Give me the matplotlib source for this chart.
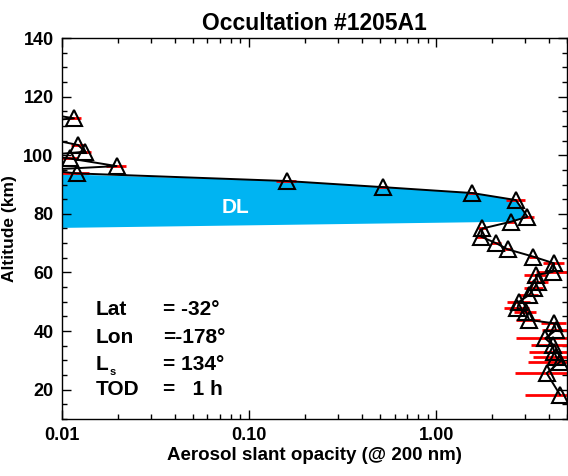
import matplotlib
matplotlib.use("Agg")
import matplotlib.pyplot as plt
from matplotlib.ticker import FixedLocator, MultipleLocator, LogLocator, NullFormatter

plt.rcParams['font.family'] = ['Liberation Sans', 'DejaVu Sans']
plt.rcParams['font.weight'] = 'bold'

# profile (altitude km, slant opacity, error)
altitude = [116.5, 112.6, 110.0, 107.5, 103.5, 101.2, 100.0, 98.9, 96.3, 95.0, 93.8,
            91.2, 89.1, 87.1, 84.7, 79.0, 77.3, 75.0, 72.2, 70.0, 67.9, 65.4,
            63.1, 60.2, 59.1, 56.8, 54.6, 52.3, 50.0, 47.8, 46.6, 43.8, 42.6,
            40.3, 37.5, 35.2, 33.0, 31.0, 29.5, 25.6, 18.2]
opacity = [0.005, 0.0116, 0.004, 0.006, 0.0122, 0.0133, 0.008, 0.0110, 0.0196, 0.008, 0.0120,
           0.159, 0.523, 1.56, 2.67, 3.08, 2.51, 1.77, 1.74, 2.09, 2.41, 3.30,
           4.27, 4.20, 3.41, 3.50, 3.34, 3.14, 2.78, 2.72, 3.02, 3.14, 4.27,
           4.37, 3.83, 4.20, 4.27, 4.40, 4.60, 3.90, 4.60]
opacity_err = [0.001, 0.001, 0.001, 0.001, 0.001, 0.001, 0.001, 0.001, 0.0025, 0.001, 0.002,
               0.02, 0.03, 0.08, 0.3, 0.25, 0.12, 0.1, 0.1, 0.12, 0.15, 0.15,
               0.55, 0.8, 0.45, 0.45, 0.4, 0.35, 0.38, 0.4, 0.4, 0.45, 0.65,
               0.7, 1.17, 1.0, 1.15, 1.1, 1.5, 1.25, 1.6]

# detached layer: profile indices bounding it plus its edges on the left axis
dl_first, dl_last = 11, 16
dl_top_left = 93.5
dl_bottom_left = 75.2

info_names = ['Lat', 'Lon', 'L', 'TOD']
info_values = ['= -32°', '=-178°', '= 134°', '=   1 h']

fig = plt.figure(figsize=(5.68, 4.76), dpi=100)
ax = fig.add_axes([0.109, 0.12, 0.889, 0.80])

# blue DL region
poly_x = [0.01] + opacity[dl_first:dl_last + 1] + [0.01]
poly_y = [dl_top_left] + altitude[dl_first:dl_last + 1] + [dl_bottom_left]
ax.fill(poly_x, poly_y, color='#00B4F2', lw=0, zorder=1)
ax.text(0.085, 82.3, 'DL', color='white', fontsize=15, fontweight='bold',
        ha='center', va='center', zorder=2)

ax.errorbar(opacity, altitude, xerr=opacity_err, fmt='none', ecolor='red',
            elinewidth=2, capsize=0, zorder=2)
ax.plot(opacity, altitude, color='black', lw=1.4, marker='^', ms=11,
        mfc='none', mec='black', mew=1.5, zorder=3)

ax.set_xscale('log')
ax.set_xlim(0.01, 5)
ax.set_ylim(10, 140)

ax.xaxis.set_major_locator(FixedLocator([0.01, 0.1, 1.0]))
ax.set_xticklabels(['0.01', '0.10', '1.00'])
ax.xaxis.set_minor_locator(LogLocator(base=10, subs=range(2, 10)))
ax.xaxis.set_minor_formatter(NullFormatter())
ax.yaxis.set_major_locator(MultipleLocator(20))
ax.yaxis.set_minor_locator(MultipleLocator(5))

ax.tick_params(which='both', direction='in', top=True, right=True, width=1)
ax.tick_params(which='major', length=6.5, labelsize=13, pad=6)
ax.tick_params(which='minor', length=3.5)
for s in ax.spines.values():
    s.set_linewidth(1)

ax.set_title('Occultation #1205A1', fontsize=16.5, fontweight='bold', pad=6)
ax.set_xlabel('Aerosol slant opacity (@ 200 nm)', fontsize=13.5, fontweight='bold')
ax.xaxis.set_label_coords(0.5, -0.075)
ax.set_ylabel('Altitude (km)', fontsize=12.5, fontweight='bold')
ax.yaxis.set_label_coords(-0.088, 0.5)

# observation info
rows_y = [0.287, 0.213, 0.144, 0.076]
for name, val, yy in zip(info_names, info_values, rows_y):
    ax.text(0.067, yy, name, transform=ax.transAxes, fontsize=15,
            fontweight='bold', va='center')
    ax.text(0.2, yy, val, transform=ax.transAxes, fontsize=15,
            fontweight='bold', va='center')
ax.text(0.094, 0.124, 's', transform=ax.transAxes, fontsize=8,
        fontweight='bold', va='center')

fig.savefig('out.png', dpi=100)
